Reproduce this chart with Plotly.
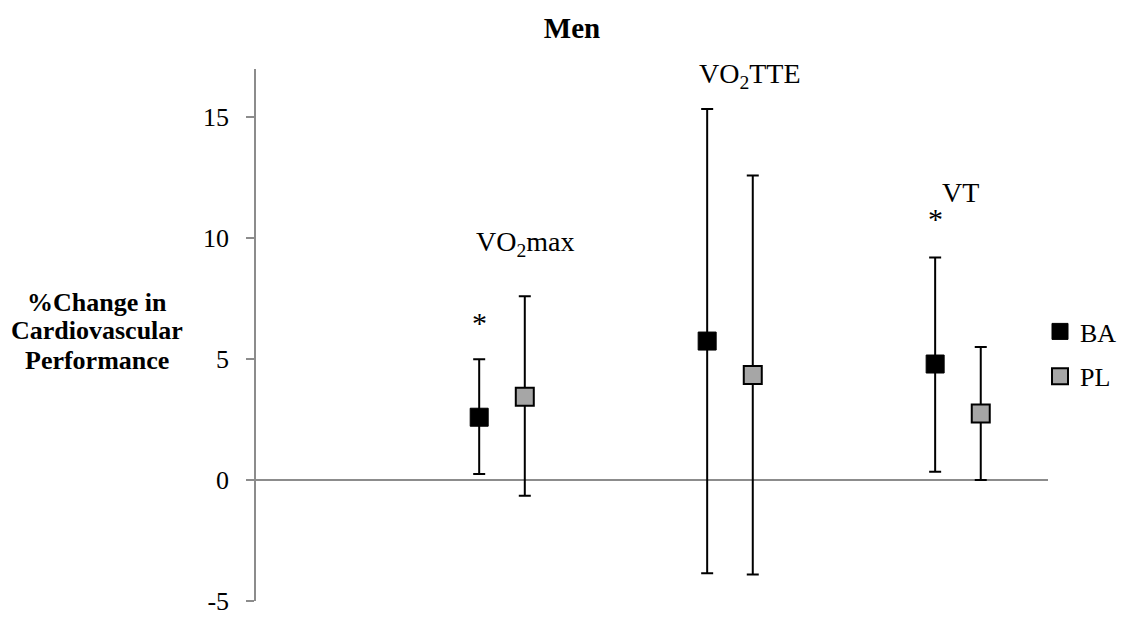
import plotly.graph_objects as go

# ---- data ----
categories = ["VO<sub>2</sub>max", "VO<sub>2</sub>TTE", "VT"]
series_names = ["BA", "PL"]
ba_mean = [2.6, 5.75, 4.8]
ba_upper = [5.0, 15.35, 9.2]
ba_lower = [0.25, -3.85, 0.35]
pl_mean = [3.45, 4.35, 2.75]
pl_upper = [7.6, 12.6, 5.5]
pl_lower = [-0.65, -3.9, 0.0]
significant_ba = [True, False, True]
y_ticks = [-5, 0, 5, 10, 15]

# ---- layout constants ----
FONT = "Liberation Serif"
cat_x = [1, 2, 3]
off = 0.1
ba_x = [c - off for c in cat_x]
pl_x = [c + off for c in cat_x]
L, R, T, B = 256, 77, 69, 19
PW, PH = 1125 - L - R, 620 - T - B

fig = go.Figure()

fig.add_trace(go.Scatter(
    x=ba_x, y=ba_mean, mode="markers", name=series_names[0], legendgroup="a",
    marker=dict(symbol="square", size=18, color="black", line=dict(color="black", width=1)),
    error_y=dict(type="data", symmetric=False,
                 array=[u - m for u, m in zip(ba_upper, ba_mean)],
                 arrayminus=[m - l for m, l in zip(ba_mean, ba_lower)],
                 color="black", thickness=2, width=6),
))
fig.add_trace(go.Scatter(
    x=pl_x, y=pl_mean, mode="markers", name=series_names[1], legendgroup="b",
    marker=dict(symbol="square", size=18, color="#a6a6a6", line=dict(color="black", width=2)),
    error_y=dict(type="data", symmetric=False,
                 array=[u - m for u, m in zip(pl_upper, pl_mean)],
                 arrayminus=[m - l for m, l in zip(pl_mean, pl_lower)],
                 color="black", thickness=2, width=6),
))

# category labels
label_pos = [(0.1, 9.8), (0.09, 16.75), (0.01, 11.9)]
for c, lab, (dx, yy) in zip(cat_x, categories, label_pos):
    fig.add_annotation(x=c + dx, y=yy, xref="x", yref="y", text=lab, showarrow=False,
                       font=dict(family=FONT, size=28, color="black"))

# significance asterisks
ast_y = [6.5, None, 10.8]
for bx, sig, yy in zip(ba_x, significant_ba, ast_y):
    if sig:
        fig.add_annotation(x=bx, y=yy, xref="x", yref="y", text="*", showarrow=False,
                           font=dict(family=FONT, size=30, color="black"))

# y-axis title (three lines, horizontal)
for txt, py in zip(["%Change in", "Cardiovascular", "Performance"], [302, 331, 360]):
    fig.add_annotation(x=(97 - L) / PW, y=(620 - B - py) / PH, xref="paper", yref="paper",
                       text=txt, showarrow=False,
                       xanchor="center", yanchor="middle",
                       font=dict(family=FONT, size=26, color="black", weight="bold"))

fig.update_layout(
    width=1125, height=620,
    margin=dict(l=L, r=R, t=T, b=B, autoexpand=False),
    paper_bgcolor="white", plot_bgcolor="white",
    title=dict(text="Men", x=572 / 1125, xref="container", xanchor="center",
               y=1 - 28 / 620, yref="container", yanchor="middle",
               font=dict(family=FONT, size=29, color="black", weight="bold")),
    font=dict(family=FONT, size=26, color="black"),
    showlegend=True,
    legend=dict(x=(1040 - L) / PW, xanchor="left",
                y=(620 - B - 308) / PH, yanchor="top",
                font=dict(family=FONT, size=26, color="black"), tracegroupgap=8,
                itemwidth=30, bgcolor="rgba(0,0,0,0)"),
    xaxis=dict(range=[-0.079, 3.395], visible=False, showgrid=False, zeroline=False),
    yaxis=dict(range=[-5, 17], tickvals=y_ticks, ticktext=[str(t) for t in y_ticks],
               showgrid=False, showline=True, linecolor="#8c8c8c", linewidth=1.5,
               ticks="outside", ticklen=8, tickcolor="#8c8c8c", tickwidth=1.5,
               zeroline=True, zerolinecolor="#8c8c8c", zerolinewidth=1.5,
               tickfont=dict(family=FONT, size=26, color="black"), ticklabelstandoff=12),
)

fig.write_html("out.html")
